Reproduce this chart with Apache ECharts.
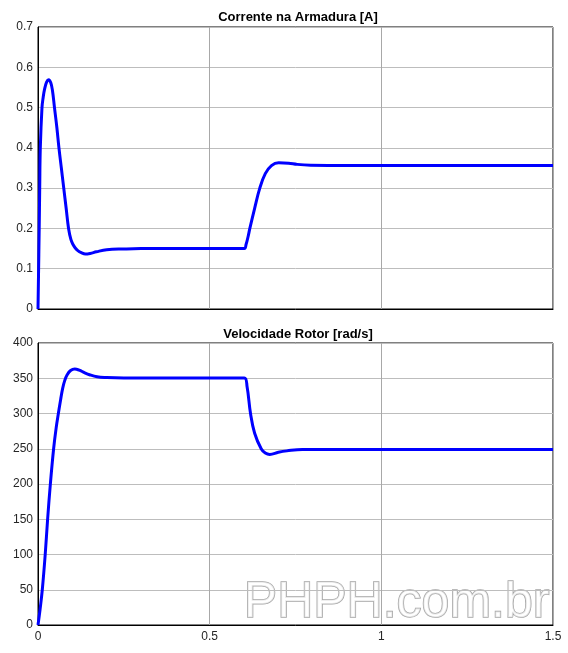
<!DOCTYPE html>
<html>
<head>
<meta charset="utf-8">
<script src="https://cdn.jsdelivr.net/npm/echarts@6/dist/echarts.min.js"></script>
<style>
  html, body { margin: 0; padding: 0; background: #fff; }
  #chart { width: 568px; height: 653px; }
</style>
</head>
<body>
<div id="chart"></div>
<script>
// corrente na armadura [A]
const tCorrente = [0, 0.0035, 0.005, 0.0067, 0.0116, 0.015, 0.019, 0.025, 0.031, 0.037, 0.042, 0.048, 0.055, 0.061, 0.068, 0.075, 0.082, 0.089, 0.096, 0.102, 0.108, 0.116, 0.126, 0.138, 0.152, 0.17, 0.2, 0.25, 0.3, 0.4, 0.5, 0.601, 0.606, 0.612, 0.617, 0.631, 0.646, 0.662, 0.68, 0.701, 0.73, 0.755, 0.794, 0.9, 1.0, 1.2, 1.5]
const corrente = [0, 0.2, 0.3, 0.4, 0.5, 0.525, 0.545, 0.563, 0.569, 0.562, 0.543, 0.5, 0.45, 0.4, 0.35, 0.3, 0.25, 0.2, 0.172, 0.16, 0.152, 0.145, 0.14, 0.1365, 0.138, 0.142, 0.147, 0.149, 0.15, 0.15, 0.15, 0.15, 0.16, 0.18, 0.2, 0.25, 0.3, 0.336, 0.356, 0.363, 0.362, 0.359, 0.357, 0.356, 0.356, 0.356, 0.356]

// velocidade rotor [rad/s]
const tVelocidade = [0, 0.006, 0.0125, 0.021, 0.028, 0.036, 0.0455, 0.053, 0.06, 0.066, 0.072, 0.078, 0.085, 0.095, 0.107, 0.12, 0.135, 0.15, 0.172, 0.2, 0.25, 0.3, 0.4, 0.5, 0.601, 0.609, 0.619, 0.631, 0.65, 0.662, 0.675, 0.7, 0.725, 0.77, 0.9, 1.0, 1.2, 1.5]
const velocidade = [0, 22, 50, 100, 150, 200, 250, 280, 302, 320, 336, 347, 355, 361, 363, 361.5, 358, 355, 352, 351, 350.5, 350.5, 350.5, 350.5, 350.5, 338, 300, 272, 250, 244, 242, 245, 247, 249, 249, 249, 249, 249]

const titulos = ['Corrente na Armadura [A]', 'Velocidade Rotor [rad/s]']

const chart = echarts.init(document.getElementById('chart'))

const fonte = 'Liberation Sans, Arial, sans-serif'

const makeX = (gridIndex, showLabels) => ({
  type: 'value',
  gridIndex,
  min: 0,
  max: 1.5,
  interval: 0.5,
  axisLine: { show: true, lineStyle: { color: '#000', width: 1 } },
  axisTick: { show: false },
  axisLabel: { show: showLabels, color: '#262626', fontSize: 12, fontFamily: fonte, margin: 6 },
  splitLine: { show: true, lineStyle: { color: '#a8a8a8', width: 1 } }
})

const makeY = (gridIndex, max, interval) => ({
  type: 'value',
  gridIndex,
  min: 0,
  max,
  interval,
  axisLine: { show: true, lineStyle: { color: '#000', width: 1 } },
  axisTick: { show: false },
  axisLabel: { color: '#262626', fontSize: 12, fontFamily: fonte, margin: 5 },
  splitLine: { show: true, lineStyle: { color: '#bdbdbd', width: 1 } }
})

chart.setOption({
  animation: false,
  backgroundColor: '#fff',
  title: titulos.map((t, i) => ({
    text: t,
    left: 293,
    textAlign: 'center',
    top: i === 0 ? 6 : 323,
    textStyle: { fontSize: 13, fontWeight: 'bold', color: '#000', fontFamily: fonte }
  })),
  grid: [
    { left: 38, top: 27, width: 515, height: 282, show: true, borderColor: '#000', borderWidth: 1 },
    { left: 38, top: 343, width: 515, height: 282, show: true, borderColor: '#000', borderWidth: 1 }
  ],
  xAxis: [makeX(0, false), makeX(1, true)],
  yAxis: [makeY(0, 0.7, 0.1), makeY(1, 400, 50)],
  graphic: [{
    type: 'text',
    left: 243,
    top: 577,
    z: 0,
    style: {
      text: 'PHPH.com.br',
      font: '50px Liberation Sans, Arial, sans-serif',
      fill: 'rgba(255,255,255,0.75)',
      stroke: '#a6a6a6',
      lineWidth: 1.6,
      shadowColor: 'rgba(0,0,0,0.25)',
      shadowBlur: 1,
      shadowOffsetX: 1,
      shadowOffsetY: 1
    }
  }],
  series: [
    {
      type: 'line',
      xAxisIndex: 0,
      yAxisIndex: 0,
      data: tCorrente.map((t, k) => [t, corrente[k]]),
      showSymbol: false,
      smooth: 0.4,
      lineStyle: { color: '#0000ff', width: 3 },
      z: 5
    },
    {
      type: 'line',
      xAxisIndex: 1,
      yAxisIndex: 1,
      data: tVelocidade.map((t, k) => [t, velocidade[k]]),
      showSymbol: false,
      smooth: 0.4,
      lineStyle: { color: '#0000ff', width: 3 },
      z: 5
    }
  ]
})
</script>
</body>
</html>
